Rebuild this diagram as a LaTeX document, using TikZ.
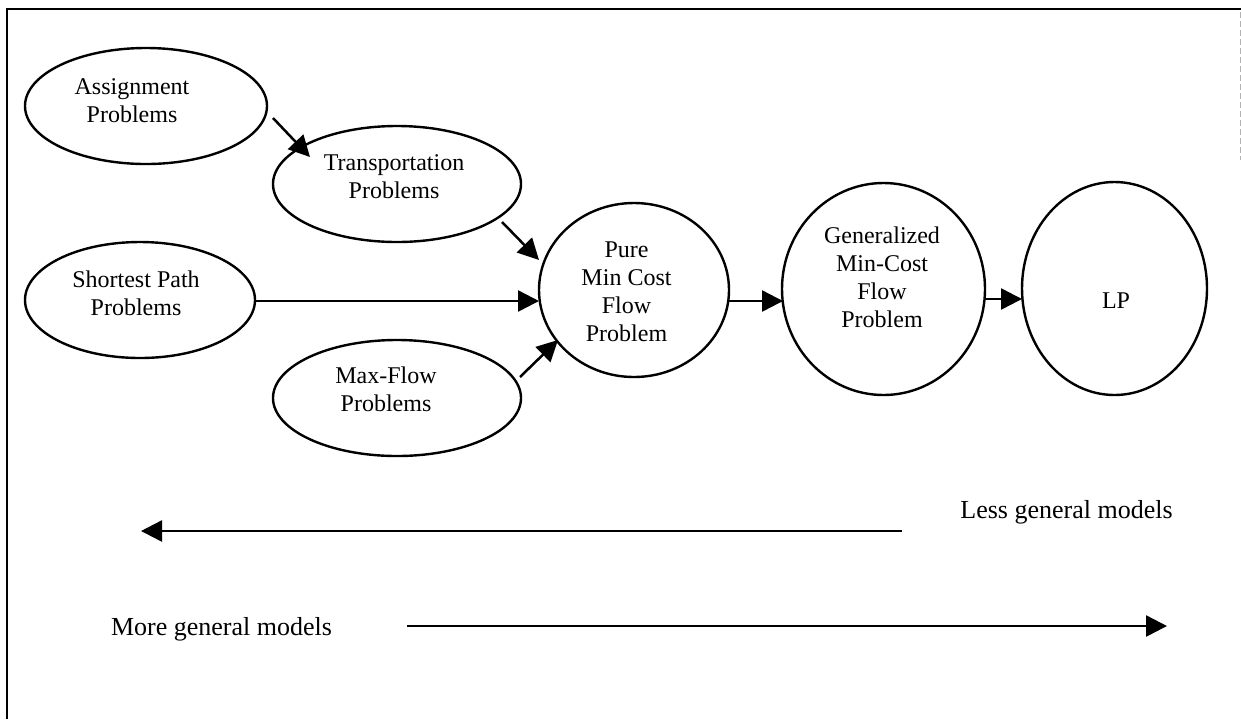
\documentclass[tikz,border=0pt]{standalone}
\usepackage{fontspec}
\setmainfont{Liberation Serif}
\usetikzlibrary{shapes.geometric,arrows.meta,calc}

% centred block of lines, moved by (#1, #2) from the node centre
\newcommand{\placedtext}[3]{%
  \raisebox{#2}[0pt][0pt]{\makebox[0pt]{\hspace*{#1}\hspace*{#1}%
  \begin{tabular}{@{}c@{}}#3\end{tabular}}}}

\begin{document}
\begin{tikzpicture}[x=0.5pt,y=-0.5pt,
  model/.style={draw, line width=1.2pt, ellipse, inner sep=0pt, outer sep=0pt,
    font=\fontsize{12}{14}\selectfont},
  link/.style={line width=1.25pt, -{Triangle[length=10.5pt,width=10.5pt]}},
  caption/.style={font=\fontsize{13}{15}\selectfont, anchor=base, inner sep=0pt}]
\useasboundingbox (0,0) rectangle (1241,719);

% frame
\draw[line width=1.2pt] (7,719) -- (7,9) -- (1241,9);
\draw[gray!60, line width=0.5pt, dash pattern=on 3pt off 1.5pt] (1240,12) -- (1240,160);

% special network models
\node[model, minimum width=121pt, minimum height=58pt] (asg) at (146,106)
  {\placedtext{-7pt}{-1.25pt}{Assignment\\Problems}};
\node[model, minimum width=124pt, minimum height=58pt] (trn) at (397,184)
  {\placedtext{-1.5pt}{-0.5pt}{Transportation\\Problems}};
\node[model, minimum width=115pt, minimum height=58pt] (spp) at (140,300)
  {\placedtext{-2pt}{-1pt}{Shortest Path\\Problems}};
\node[model, minimum width=124pt, minimum height=58pt] (mfp) at (397,398)
  {\placedtext{-5.5pt}{0pt}{Max-Flow\\Problems}};

% general models
\node[model, minimum width=95pt, minimum height=87pt] (pmc) at (634,290)
  {\placedtext{-3.75pt}{-4.75pt}{Pure\\Min Cost\\Flow\\Problem}};
\node[model, minimum width=101.5pt, minimum height=106pt] (gmc) at (883.5,289)
  {\placedtext{-0.75pt}{1.75pt}{Generalized\\Min-Cost\\Flow\\Problem}};
\node[model, minimum width=92.5pt, minimum height=106.5pt] (lp) at (1114.5,288.5)
  {\placedtext{0.75pt}{-10.35pt}{LP}};

% specialisation links
\draw[link] ($(asg)+(127,12)$) -- ($(trn)+(-87,-27)$);
\draw[link] ($(trn)+(105,38)$) -- ($(pmc)+(-95,-30)$);
\draw[link] ($(spp)+(115,1)$) -- ($(pmc)+(-95,11)$);
\draw[link] ($(mfp)+(123,-21)$) -- ($(pmc)+(-76,50)$);
\draw[link] ($(pmc)+(93,11)$) -- ($(gmc)+(-100.5,12)$);
\draw[link] ($(gmc)+(101.5,10)$) -- ($(lp)+(-92.5,10.5)$);

% generality scale
\node[caption] (less) at (1066.5,518) {Less general models};
\coordinate (lessFrom) at (902,531);
\coordinate (lessTo) at (141,531);
\draw[link] (lessFrom) -- (lessTo);

\node[caption] (more) at (221.5,635) {More general models};
\coordinate (moreFrom) at (407,626);
\coordinate (moreTo) at (1167,626);
\draw[link] (moreFrom) -- (moreTo);
\end{tikzpicture}
\end{document}
